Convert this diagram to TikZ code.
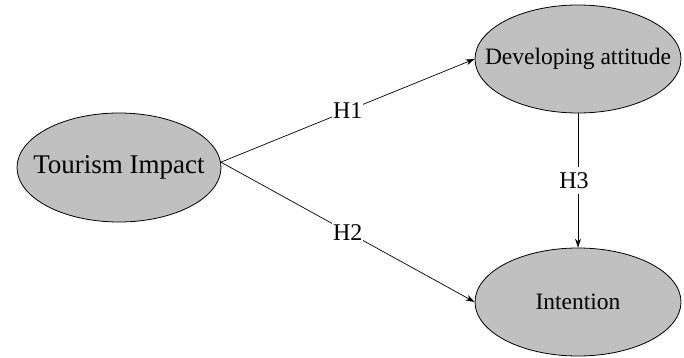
\documentclass[tikz,border=0pt]{standalone}
\usepackage{fontspec}
\setmainfont{Liberation Serif}
\usetikzlibrary{shapes.geometric,arrows.meta}
\definecolor{ellgray}{RGB}{192,192,192}
\begin{document}
\begin{tikzpicture}[x=1pt,y=-1pt,
  ell/.style={ellipse,draw=black,fill=ellgray,line width=0.8pt,inner sep=0pt},
  conn/.style={draw=black,line width=0.7pt},
  arr/.style={conn,-{Stealth[length=9pt,width=6pt]}},
  lab/.style={fill=white,inner xsep=1pt,inner ysep=5pt,font=\fontsize{24}{26}\selectfont}]
\useasboundingbox (0,0) rectangle (684,358);
\node[ell,minimum width=204pt,minimum height=109pt,font=\fontsize{27}{28}\selectfont] (ti) at (119,167.5) {\makebox[0pt]{Tourism Impact}};
\node[ell,minimum width=206pt,minimum height=108pt,font=\fontsize{23.5}{25}\selectfont] (da) at (578,59) {\makebox[0pt]{Developing attitude}};
\node[ell,minimum width=206pt,minimum height=108pt,font=\fontsize{23.5}{25}\selectfont] (in) at (578,302) {\makebox[0pt]{Intention}};
\draw[arr] (ti.3) -- node[lab,pos=0.5] {H1} (da.west);
\draw[arr] (ti.3) -- node[lab,pos=0.5] {H2} (in.west);
\draw[arr] (da.south) -- node[lab,pos=0.5,xshift=-4pt] {H3} (in.north);
\end{tikzpicture}
\end{document}
